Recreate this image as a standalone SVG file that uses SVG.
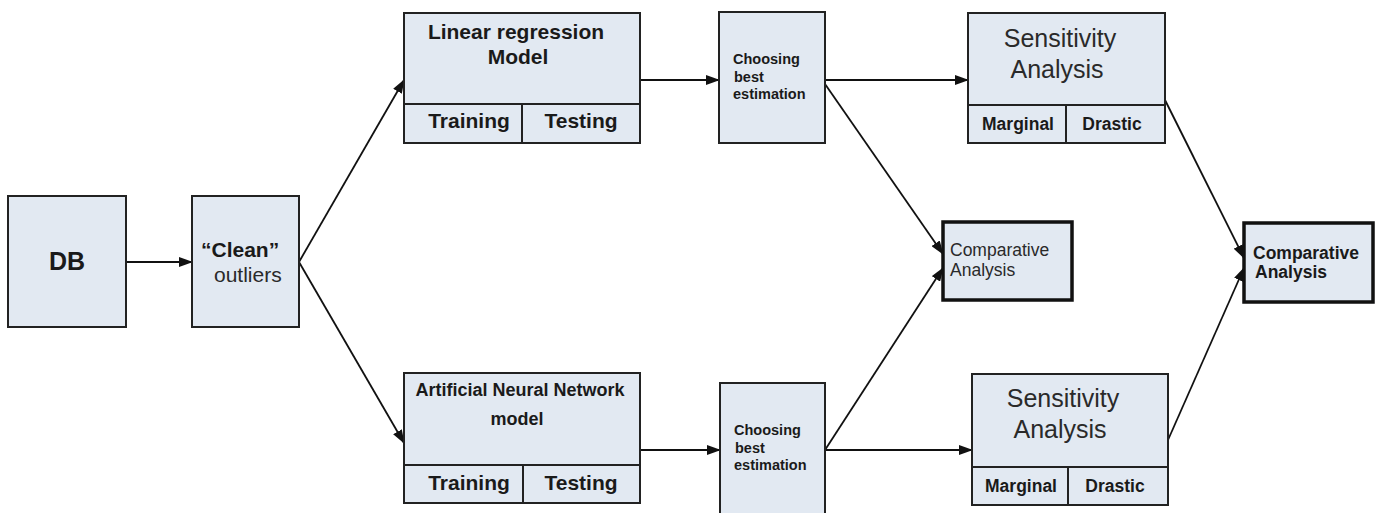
<svg xmlns="http://www.w3.org/2000/svg" width="1382" height="513" viewBox="0 0 1382 513">
  <style>
    .box { fill: #e2e9f2; stroke: #222; stroke-width: 2; }
    .thick { fill: #e2e9f2; stroke: #111; stroke-width: 3.5; }
    .div { stroke: #222; stroke-width: 2; fill: none; }
    .t { font-family: "Liberation Sans", Arial, sans-serif; fill: #1a1a1a; }
    .b { font-weight: bold; }
    .r { fill: #2a2a2a; }
    .c { text-anchor: middle; }
    .edge { stroke: #111; stroke-width: 1.8; fill: none; marker-end: url(#arrow); }
  </style>
  <defs>
    <marker id="arrow" markerWidth="14" markerHeight="10" refX="13" refY="5" orient="auto" markerUnits="userSpaceOnUse">
      <path d="M0,0 L14,5 L0,10 Z" fill="#111"/>
    </marker>
  </defs>
  <rect width="1382" height="513" fill="#fff"/>

  <g id="connectors">
    <line class="edge" x1="126" y1="262" x2="192" y2="262"/>
    <line class="edge" x1="299" y1="262" x2="404" y2="80"/>
    <line class="edge" x1="299" y1="262" x2="404" y2="443"/>
    <line class="edge" x1="640" y1="80" x2="719" y2="80"/>
    <line class="edge" x1="640" y1="450" x2="720" y2="450"/>
    <line class="edge" x1="825" y1="80" x2="968" y2="80"/>
    <line class="edge" x1="825" y1="84" x2="943" y2="254"/>
    <line class="edge" x1="825" y1="450" x2="943" y2="268"/>
    <line class="edge" x1="825" y1="450" x2="972" y2="450"/>
    <line class="edge" x1="1165" y1="100" x2="1244" y2="258"/>
    <line class="edge" x1="1168" y1="440" x2="1244" y2="268"/>
  </g>

  <g id="db">
    <rect class="box" x="8" y="196" width="118" height="131"/>
    <text class="t b c" x="67" y="270" font-size="25">DB</text>
  </g>

  <g id="clean">
    <rect class="box" x="192" y="196" width="107" height="131"/>
    <text class="t b" x="201" y="257" font-size="21">“Clean”</text>
    <text class="t r" x="214" y="282" font-size="21">outliers</text>
  </g>

  <g id="linear-regression">
    <rect class="box" x="404" y="13" width="236" height="130"/>
    <line class="div" x1="404" y1="104" x2="640" y2="104"/>
    <line class="div" x1="522" y1="104" x2="522" y2="143"/>
    <text class="t b c" x="516" y="39" font-size="21">Linear regression</text>
    <text class="t b c" x="518" y="64" font-size="21">Model</text>
    <text class="t b c" x="469" y="128" font-size="21">Training</text>
    <text class="t b c" x="581" y="128" font-size="21">Testing</text>
  </g>

  <g id="ann">
    <rect class="box" x="404" y="373" width="236" height="130"/>
    <line class="div" x1="404" y1="465" x2="640" y2="465"/>
    <line class="div" x1="523" y1="465" x2="523" y2="503"/>
    <text class="t b c" x="520" y="396" font-size="18">Artificial Neural Network</text>
    <text class="t b c" x="517" y="425" font-size="18">model</text>
    <text class="t b c" x="469" y="490" font-size="21">Training</text>
    <text class="t b c" x="581" y="490" font-size="21">Testing</text>
  </g>

  <g id="choose-top">
    <rect class="box" x="719" y="12" width="106" height="131"/>
    <text class="t b" x="733" y="64" font-size="14.5">Choosing</text>
    <text class="t b" x="734" y="82" font-size="14.5">best</text>
    <text class="t b" x="733" y="99" font-size="14.5">estimation</text>
  </g>

  <g id="choose-bottom">
    <rect class="box" x="720" y="383" width="105" height="140"/>
    <text class="t b" x="734" y="435" font-size="14.5">Choosing</text>
    <text class="t b" x="735" y="453" font-size="14.5">best</text>
    <text class="t b" x="734" y="470" font-size="14.5">estimation</text>
  </g>

  <g id="sensitivity-top">
    <rect class="box" x="968" y="13" width="197" height="130"/>
    <line class="div" x1="968" y1="105" x2="1165" y2="105"/>
    <line class="div" x1="1066" y1="105" x2="1066" y2="143"/>
    <text class="t r c" x="1060" y="47" font-size="25">Sensitivity</text>
    <text class="t r c" x="1057" y="78" font-size="25">Analysis</text>
    <text class="t b c" x="1018" y="130" font-size="17.5">Marginal</text>
    <text class="t b c" x="1112" y="130" font-size="17.5">Drastic</text>
  </g>

  <g id="sensitivity-bottom">
    <rect class="box" x="972" y="374" width="196" height="131"/>
    <line class="div" x1="972" y1="467" x2="1168" y2="467"/>
    <line class="div" x1="1068" y1="467" x2="1068" y2="505"/>
    <text class="t r c" x="1063" y="407" font-size="25">Sensitivity</text>
    <text class="t r c" x="1060" y="438" font-size="25">Analysis</text>
    <text class="t b c" x="1021" y="492" font-size="17.5">Marginal</text>
    <text class="t b c" x="1115" y="492" font-size="17.5">Drastic</text>
  </g>

  <g id="comparative-middle">
    <rect class="thick" x="943" y="222" width="129" height="78"/>
    <text class="t r" x="950" y="256" font-size="17.5">Comparative</text>
    <text class="t r" x="950" y="276" font-size="17.5">Analysis</text>
  </g>

  <g id="comparative-right">
    <rect class="thick" x="1244" y="223" width="129" height="79"/>
    <text class="t b" x="1253" y="259" font-size="17.5">Comparative</text>
    <text class="t b" x="1255" y="278" font-size="17.5">Analysis</text>
  </g>
</svg>
